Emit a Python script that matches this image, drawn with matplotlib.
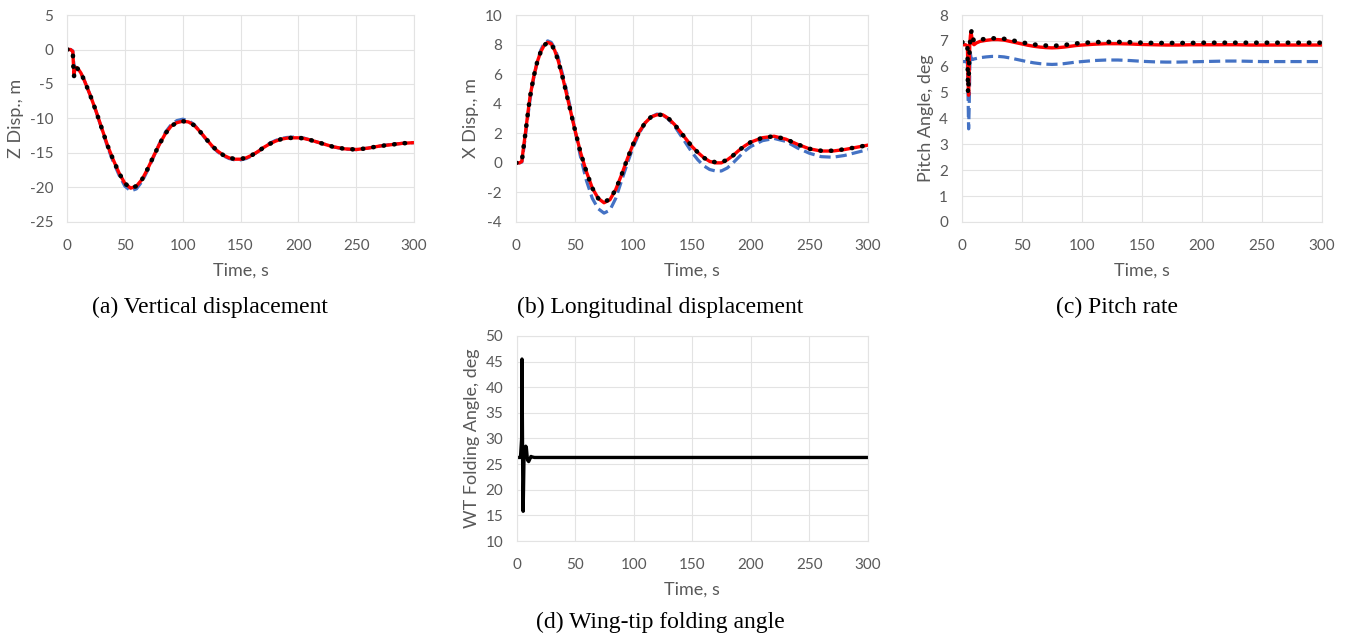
import matplotlib
matplotlib.use("Agg")
import matplotlib.pyplot as plt

# (a) vertical displacement
t_a = [0, 3, 5, 5.5, 6, 7, 8, 10, 12, 15, 20, 25, 30, 35, 40, 45, 50, 55, 60, 65,
       70, 75, 80, 85, 90, 95, 100, 105, 110, 115, 120, 125, 130, 135, 140, 145,
       150, 155, 160, 165, 170, 175, 180, 185, 190, 195, 200, 205, 210, 220, 230,
       240, 250, 260, 270, 280, 290, 300]
z_red = [0, 0, -0.3, -2.0, -3.6, -2.8, -2.6, -2.9, -3.4, -4.5, -6.6, -8.9, -11.4,
         -13.9, -16.0, -17.9, -19.4, -20.1, -19.8, -18.8, -17.2, -15.4, -13.7,
         -12.2, -11.1, -10.6, -10.4, -10.5, -11.0, -11.9, -12.9, -13.9, -14.7,
         -15.3, -15.7, -15.9, -15.9, -15.7, -15.3, -14.8, -14.2, -13.7, -13.3,
         -13.0, -12.85, -12.8, -12.8, -12.9, -13.1, -13.6, -14.1, -14.4, -14.5,
         -14.3, -14.0, -13.8, -13.6, -13.5]
z_blue = [0, 0, -0.2, -1.5, -2.2, -2.6, -2.8, -3.0, -3.4, -4.5, -6.6, -8.9, -11.5,
          -14.1, -16.3, -18.2, -19.8, -20.5, -20.2, -19.1, -17.4, -15.5, -13.6,
          -12.0, -10.9, -10.3, -10.1, -10.3, -10.9, -11.9, -13.0, -14.0, -14.8,
          -15.4, -15.8, -16.0, -16.0, -15.8, -15.4, -14.8, -14.2, -13.6, -13.2,
          -12.9, -12.75, -12.7, -12.7, -12.85, -13.1, -13.6, -14.1, -14.45, -14.5,
          -14.3, -14.0, -13.75, -13.6, -13.5]
z_black = [0, 0, -0.4, -2.5, -3.9, -3.0, -2.6, -2.9, -3.4, -4.5, -6.6, -8.9, -11.4,
           -13.9, -16.0, -17.9, -19.4, -20.1, -19.8, -18.8, -17.2, -15.4, -13.7,
           -12.2, -11.1, -10.6, -10.4, -10.5, -11.0, -11.9, -12.9, -13.9, -14.7,
           -15.3, -15.7, -15.85, -15.85, -15.7, -15.3, -14.8, -14.2, -13.7, -13.3,
           -13.0, -12.85, -12.8, -12.8, -12.9, -13.1, -13.6, -14.1, -14.4, -14.5,
           -14.3, -14.0, -13.8, -13.6, -13.5]

# (b) longitudinal displacement
t_b = [0, 3, 5, 6, 8, 10, 12, 15, 18, 21, 24, 27, 30, 33, 36, 40, 45, 50, 55, 60,
       65, 70, 75, 80, 85, 90, 95, 100, 105, 110, 115, 120, 125, 130, 135, 140,
       145, 150, 155, 160, 165, 170, 175, 180, 185, 190, 195, 200, 210, 220, 230,
       240, 250, 260, 270, 280, 290, 300]
x_red = [0, 0, 0.1, 0.8, 2.0, 3.3, 4.5, 5.8, 6.8, 7.5, 7.95, 8.15, 8.05, 7.6, 6.9,
         5.7, 4.0, 2.3, 0.7, -0.6, -1.7, -2.4, -2.7, -2.5, -1.8, -0.8, 0.3, 1.3,
         2.1, 2.7, 3.1, 3.25, 3.25, 3.0, 2.6, 2.1, 1.6, 1.1, 0.7, 0.35, 0.1, 0.0,
         0.0, 0.2, 0.5, 0.85, 1.15, 1.4, 1.7, 1.8, 1.6, 1.25, 0.95, 0.8, 0.8, 0.9,
         1.05, 1.2]
x_blue = [0, 0, 0.05, 0.6, 1.8, 3.1, 4.3, 5.7, 6.8, 7.6, 8.1, 8.25, 8.15, 7.75,
          7.1, 5.9, 4.2, 2.3, 0.4, -1.2, -2.4, -3.1, -3.4, -3.2, -2.4, -1.2, 0.0,
          1.1, 2.0, 2.7, 3.1, 3.3, 3.25, 2.95, 2.5, 1.9, 1.3, 0.7, 0.2, -0.2,
          -0.45, -0.55, -0.55, -0.35, 0.0, 0.4, 0.8, 1.1, 1.5, 1.65, 1.45, 1.0,
          0.65, 0.42, 0.38, 0.5, 0.7, 0.9]
x_black = [0, 0, 0.1, 0.8, 2.0, 3.3, 4.5, 5.8, 6.8, 7.5, 7.95, 8.15, 8.05, 7.6,
           6.9, 5.7, 4.0, 2.3, 0.7, -0.6, -1.7, -2.4, -2.65, -2.45, -1.8, -0.8,
           0.3, 1.3, 2.1, 2.7, 3.1, 3.25, 3.25, 3.0, 2.6, 2.1, 1.6, 1.1, 0.7, 0.35,
           0.1, 0.05, 0.05, 0.2, 0.5, 0.85, 1.15, 1.4, 1.7, 1.8, 1.6, 1.25, 0.95,
           0.82, 0.82, 0.92, 1.05, 1.2]

# (c) pitch angle
t_c = [0, 3, 4.5, 5, 5.5, 6, 6.5, 7, 7.5, 8, 9, 10, 12, 15, 20, 25, 30, 35, 40, 45,
       50, 55, 60, 65, 70, 75, 80, 85, 90, 95, 100, 110, 120, 130, 140, 150, 160,
       170, 180, 190, 200, 210, 220, 230, 240, 250, 260, 270, 280, 290, 300]
p_red = [6.85, 6.85, 6.8, 5.5, 4.9, 6.0, 6.9, 7.2, 7.35, 7.2, 6.9, 6.85, 6.92, 6.98,
         7.02, 7.05, 7.05, 7.03, 6.98, 6.93, 6.88, 6.83, 6.79, 6.76, 6.74, 6.73,
         6.74, 6.76, 6.79, 6.82, 6.84, 6.87, 6.89, 6.89, 6.88, 6.86, 6.85, 6.84,
         6.84, 6.85, 6.85, 6.85, 6.85, 6.85, 6.84, 6.84, 6.84, 6.84, 6.84, 6.84,
         6.84]
p_blue = [6.2, 6.2, 6.15, 5.0, 3.6, 4.5, 6.0, 6.5, 6.35, 6.3, 6.28, 6.3, 6.32, 6.35,
          6.38, 6.4, 6.4, 6.38, 6.34, 6.29, 6.24, 6.19, 6.15, 6.12, 6.1, 6.09, 6.1,
          6.12, 6.15, 6.18, 6.2, 6.24, 6.26, 6.26, 6.24, 6.21, 6.19, 6.18, 6.18,
          6.19, 6.2, 6.21, 6.22, 6.22, 6.21, 6.2, 6.2, 6.2, 6.2, 6.2, 6.2]
p_black = [6.95, 6.95, 6.9, 5.0, 5.4, 6.3, 6.8, 7.1, 7.3, 7.4, 7.1, 7.0, 7.02, 7.05,
           7.08, 7.1, 7.1, 7.08, 7.04, 6.99, 6.94, 6.9, 6.86, 6.84, 6.82, 6.81,
           6.82, 6.84, 6.87, 6.9, 6.92, 6.95, 6.96, 6.96, 6.95, 6.93, 6.92, 6.92,
           6.92, 6.92, 6.93, 6.93, 6.93, 6.93, 6.93, 6.93, 6.93, 6.93, 6.93, 6.93,
           6.93]

# (d) wing-tip folding angle
t_d = [0, 3, 4, 4.3, 4.6, 5, 5.3, 5.6, 6, 6.5, 7, 7.5, 8, 8.5, 9, 10, 11, 12, 13,
       15, 20, 300]
wt = [26.3, 26.3, 30, 45.5, 35, 20, 15.8, 20, 26, 27.5, 28, 28.5, 28.3, 27, 25.8,
      25.5, 26, 26.5, 26.4, 26.3, 26.3, 26.3]

GRAY = '#595959'
GRID = '#e3e3e3'
BLUE = '#4472C4'
RED = '#FF0000'

plt.rcParams['font.family'] = ['Lato', 'DejaVu Sans']
plt.rcParams['axes.unicode_minus'] = False  # plain hyphen like Excel

fig = plt.figure(figsize=(13.54, 6.44), dpi=100)


def style(ax, ylim, yticks, ylabel):
    ax.set_xlim(0, 300)
    ax.set_ylim(*ylim)
    ax.set_xticks(range(0, 301, 50))
    ax.set_yticks(yticks)
    ax.grid(True, color=GRID, linewidth=0.8)
    ax.set_axisbelow(True)
    for s in ax.spines.values():
        s.set_color(GRID)
        s.set_linewidth(0.8)
    ax.tick_params(length=0, labelsize=11, labelcolor=GRAY)
    ax.tick_params(axis='x', pad=12)
    ax.tick_params(axis='y', pad=10)
    ax.set_xlabel('Time, s', fontsize=13, color=GRAY, labelpad=7)
    ax.set_ylabel(ylabel, fontsize=13, color=GRAY, labelpad=4)


def three(ax, t, blue, red, black):
    ax.plot(t, blue, color=BLUE, lw=2.3, linestyle=(0, (3.5, 1.6)))
    ax.plot(t, red, color=RED, lw=2.4)
    ax.plot(t, black, color='black', lw=3.3, linestyle=(0, (0.1, 2.2)),
            dash_capstyle='round')


ax_a = fig.add_axes([0.0495, 0.6553, 0.2563, 0.3214])
three(ax_a, t_a, z_blue, z_red, z_black)
style(ax_a, (-25, 5), range(-25, 6, 5), 'Z Disp., m')

ax_b = fig.add_axes([0.3811, 0.6553, 0.2600, 0.3214])
three(ax_b, t_b, x_blue, x_red, x_black)
style(ax_b, (-4, 10), range(-4, 11, 2), 'X Disp., m')

ax_c = fig.add_axes([0.7105, 0.6553, 0.2659, 0.3214])
three(ax_c, t_c, p_blue, p_red, p_black)
style(ax_c, (0, 8), range(0, 9, 1), 'Pitch Angle, deg')

ax_d = fig.add_axes([0.3818, 0.1599, 0.2592, 0.3184])
ax_d.plot(t_d, wt, color='black', lw=2.4)
style(ax_d, (10, 50), range(10, 51, 5), 'WT Folding Angle, deg')

cap = dict(fontsize=17, family='Liberation Serif', ha='center', va='center')
fig.text(210 / 1354, 1 - 307 / 644, '(a) Vertical displacement', **cap)
fig.text(660 / 1354, 1 - 307 / 644, '(b) Longitudinal displacement', **cap)
fig.text(1117 / 1354, 1 - 307 / 644, '(c) Pitch rate', **cap)
fig.text(660 / 1354, 1 - 622 / 644, '(d) Wing-tip folding angle', **cap)

fig.savefig('out.png', dpi=100)
